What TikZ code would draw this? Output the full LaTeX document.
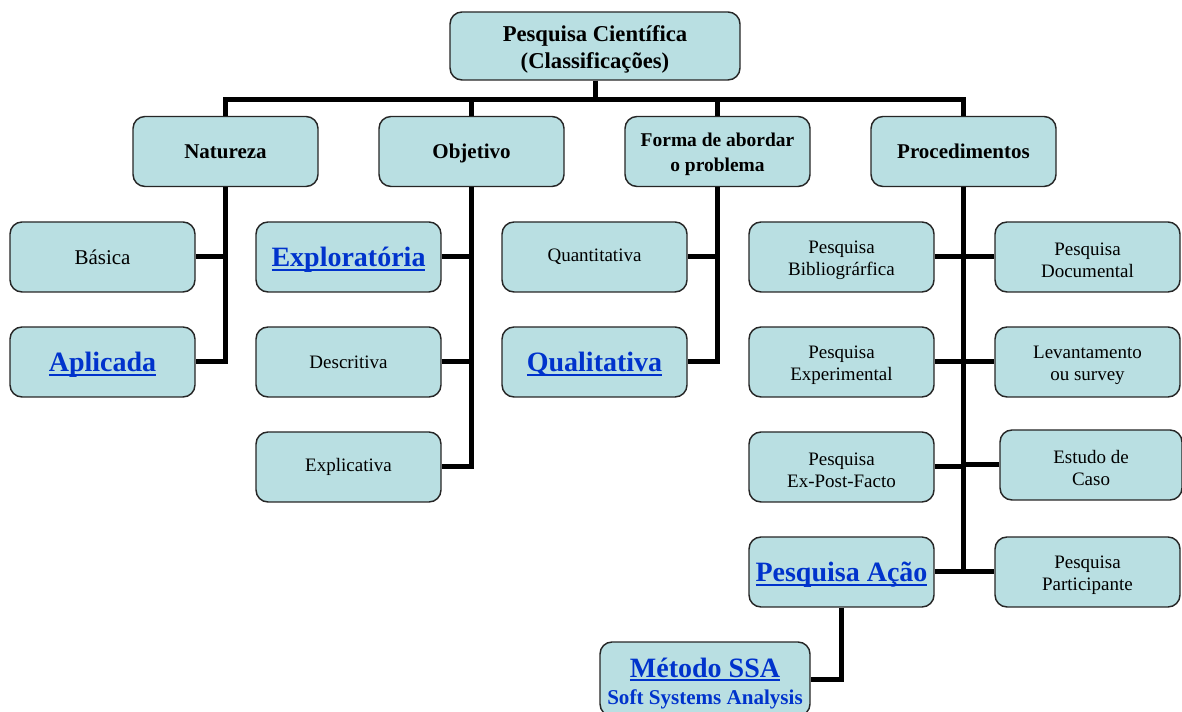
\documentclass[tikz,border=0pt]{standalone}
\usepackage{fontspec}
\setmainfont{Liberation Serif}
\usetikzlibrary{positioning}
\definecolor{BoxFill}{HTML}{B9DFE2}
\definecolor{LinkBlue}{HTML}{0033CC}
\newcommand{\lnk}[1]{{\color{LinkBlue}\bfseries\setbox0\hbox{#1}\rlap{\rule[-3pt]{\wd0}{1.8pt}}\box0}}
\newcommand{\topstrut}{\rule{0pt}{1em}}

\begin{document}
\begin{tikzpicture}[
  x=0.75pt,y=-0.75pt,
  node distance=25.15pt and 44.65pt,
  box/.style={draw=black!85,line width=1.1pt,fill=BoxFill,rounded corners=9pt,align=center,
              minimum width=138.75pt,minimum height=52.5pt,inner sep=2pt},
  top/.style={box,minimum width=217.5pt,minimum height=51pt,font=\fontsize{17}{20}\selectfont\bfseries},
  head/.style={box,font=\fontsize{15.75}{18.75}\selectfont\bfseries},
  single/.style={text height=13.5pt,text depth=3.4pt},
  item/.style={box,font=\fontsize{14.25}{17}\selectfont},
  linkbox/.style={box,font=\fontsize{21}{24}\selectfont},
  link/.style={line width=3.75pt,black}
]
\useasboundingbox (0,0) rectangle (1182,712);

\node[top] (ciencia) at (595,46) {\topstrut Pesquisa Científica\\(Classificações)};

\node[head,single] (natureza) at (225.5,151.5) {Natureza};
\node[head,single,right=of natureza] (objetivo) {Objetivo};
\node[head,font=\fontsize{14.6}{18.75}\selectfont\bfseries,right=of objetivo] (forma) {\topstrut Forma de abordar\\o problema};
\node[head,single,right=of forma] (procedimentos) {Procedimentos};

\node[item,font=\fontsize{15.75}{18}\selectfont] (basica) at (102.5,257) {Básica};
\node[linkbox,single,text height=20pt,text depth=5pt,below=of basica] (aplicada) {\lnk{Aplicada}};

\node[linkbox,single,text height=20pt,text depth=5pt] (exploratoria) at (348.5,257) {\lnk{Exploratória}};
\node[item,below=of exploratoria] (descritiva) {Descritiva};
\node[item,below=of descritiva] (explicativa) {Explicativa};

\node[item] (quantitativa) at (594.5,257) {Quantitativa};
\node[linkbox,single,text height=20pt,text depth=5pt,below=of quantitativa] (qualitativa) {\lnk{Qualitativa}};

\node[item] (bibliografica) at (841.5,257) {\topstrut Pesquisa\\Bibliográrfica};
\node[item,below=of bibliografica] (experimental) {\topstrut Pesquisa\\Experimental};
\node[item,below=of experimental] (expostfacto) {\topstrut Pesquisa\\Ex-Post-Facto};
\node[linkbox,single,text height=20pt,text depth=5pt,below=of expostfacto] (acao) {\lnk{Pesquisa Ação}};

\node[item] (documental) at (1087.5,257) {\topstrut Pesquisa\\Documental};
\node[item,below=of documental] (levantamento) {\topstrut Levantamento\\ou survey};
\node[item,minimum width=136.5pt] (estudo) at (1091,465) {\topstrut Estudo de\\Caso};
\node[item] (participante) at (1087.5,572) {\topstrut Pesquisa\\Participante};

\node[linkbox,minimum width=157.5pt,minimum height=55.5pt] (ssa) at (705,679)
  {\topstrut\lnk{Método SSA}\\[-4pt]{\fontsize{15.8}{18}\selectfont\bfseries\color{LinkBlue}Soft Systems Analysis}};

\coordinate (bus) at (595,100);
\draw[link] (ciencia.south) -- (bus);
\draw[link] (natureza.north) |- (bus) -| (procedimentos.north);
\draw[link] (objetivo.north) -- (objetivo.north |- bus);
\draw[link] (forma.north) -- (forma.north |- bus);

\draw[link] (natureza.south) |- (aplicada.east);
\draw[link] (basica.east) -- (basica.east -| natureza.south);

\draw[link] (objetivo.south) |- (explicativa.east);
\draw[link] (exploratoria.east) -- (exploratoria.east -| objetivo.south);
\draw[link] (descritiva.east) -- (descritiva.east -| objetivo.south);

\draw[link] (forma.south) |- (qualitativa.east);
\draw[link] (quantitativa.east) -- (quantitativa.east -| forma.south);

\draw[link] (procedimentos.south) -- (procedimentos.south |- acao.east);
\draw[link] (bibliografica.east) -- (documental.west);
\draw[link] (experimental.east) -- (levantamento.west);
\draw[link] (expostfacto.east) -- (expostfacto.east -| procedimentos.south);
\draw[link] (estudo.west) -- (estudo.west -| procedimentos.south);
\draw[link] (acao.east) -- (participante.west);

\draw[link] (acao.south) |- (ssa.east);
\end{tikzpicture}
\end{document}
